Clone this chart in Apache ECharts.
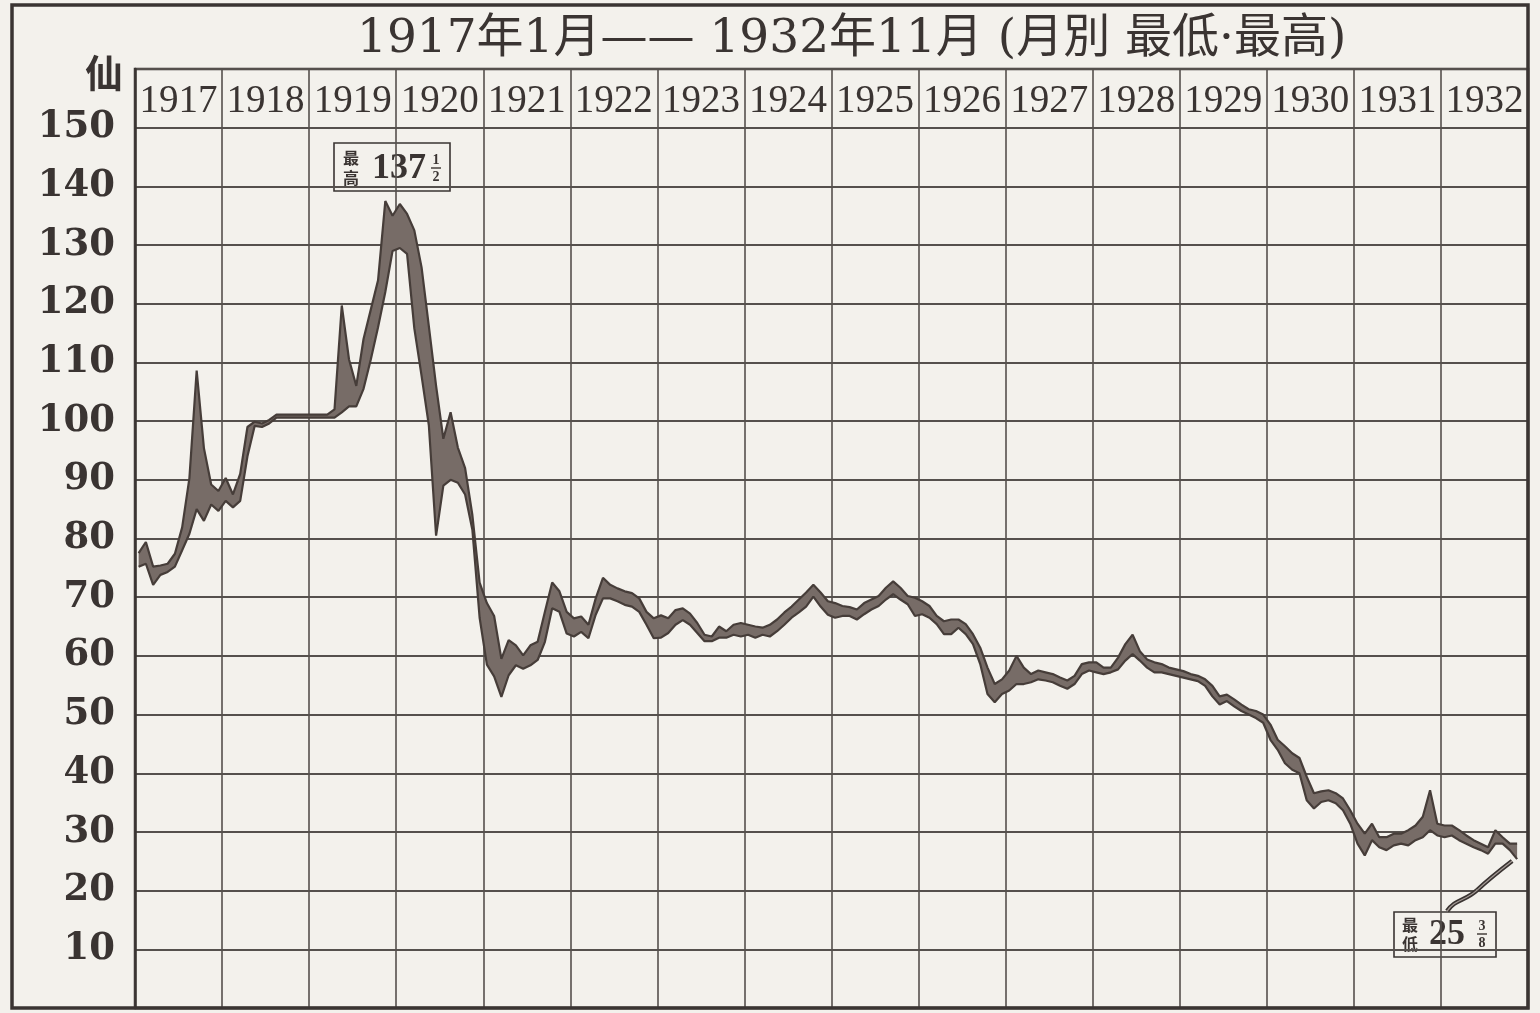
<!DOCTYPE html>
<html>
<head>
<meta charset="utf-8">
<script src="https://cdn.jsdelivr.net/npm/echarts@6/dist/echarts.min.js"></script>
<style>
html,body{margin:0;padding:0;background:#f2efea;}
#c{width:1540px;height:1013px;}
</style>
</head>
<body>
<div id="c"></div>
<script>
// ---------------- data ----------------
const years = ['1917','1918','1919','1920','1921','1922','1923','1924','1925','1926','1927','1928','1929','1930','1931','1932'];
const yTickLabels = [10,20,30,40,50,60,70,80,90,100,110,120,130,140,150];
const titleText = '1917年1月—— 1932年11月 (月別 最低·最高)';
const unitLabel = '仙';

// monthly highest (Jan 1917 – Nov 1932)
const monthlyHigh = [
  77.5, 79.4, 75.2, 75.4, 75.7, 77.4, 81.9, 90.3, 108.6, 95.4, 89.2, 88.1,      // 1917
  90.3, 87.5, 91.0, 99.0, 99.9, 99.6, 100.2, 101.1, 101.1, 101.1, 101.1, 101.1, // 1918
  101.1, 101.1, 101.1, 102.0, 119.7, 110.5, 106.0, 114.0, 119.0, 124.0, 137.5, 135.0, // 1919
  137.0, 135.3, 132.5, 126.2, 116.2, 106.0, 97.0, 101.5, 95.5, 92.0, 84.0, 72.5, // 1920
  69.0, 66.8, 59.5, 62.7, 61.8, 60.1, 61.8, 62.4, 67.5, 72.5, 71.0, 67.5,       // 1921
  66.4, 66.7, 65.3, 69.8, 73.3, 72.1, 71.5, 71.0, 70.7, 69.8, 67.5, 66.4,       // 1922
  66.9, 66.4, 67.8, 68.1, 67.2, 65.6, 63.6, 63.3, 65.0, 64.2, 65.3, 65.6,       // 1923
  65.3, 65.0, 64.8, 65.3, 66.2, 67.4, 68.4, 69.6, 70.8, 72.1, 70.8, 69.3,       // 1924
  69.0, 68.5, 68.3, 67.9, 69.0, 69.6, 70.2, 71.6, 72.7, 71.6, 70.2, 69.9,       // 1925
  69.3, 68.5, 66.8, 65.9, 66.2, 66.2, 65.4, 63.7, 61.4, 58.0, 55.2, 56.0,       // 1926
  57.5, 60.0, 58.0, 56.9, 57.5, 57.2, 56.9, 56.3, 55.8, 56.6, 58.6, 58.9,       // 1927
  58.9, 58.0, 58.0, 59.7, 62.0, 63.6, 60.8, 59.4, 58.9, 58.6, 58.0, 57.7,       // 1928
  57.4, 56.9, 56.6, 56.0, 54.9, 53.1, 53.4, 52.6, 51.7, 50.9, 50.6, 50.0,       // 1929
  48.3, 45.7, 44.6, 43.4, 42.6, 39.4, 36.6, 36.9, 37.1, 36.6, 35.7, 33.7,       // 1930
  31.4, 29.7, 31.4, 29.1, 29.1, 29.7, 29.7, 30.3, 31.1, 32.6, 37.1, 31.4,       // 1931
  31.1, 31.1, 30.3, 29.4, 28.6, 28.0, 27.4, 30.3, 29.1, 28.0, 28.0              // 1932 (to Nov)
];

// monthly lowest (Jan 1917 – Nov 1932)
const monthlyLow = [
  75.2, 75.7, 72.1, 73.8, 74.3, 75.2, 78.0, 80.8, 85.0, 83.0, 85.8, 84.7,       // 1917
  86.4, 85.3, 86.4, 94.0, 99.2, 99.0, 99.6, 100.6, 100.6, 100.6, 100.6, 100.6,  // 1918
  100.6, 100.6, 100.6, 100.6, 101.5, 102.5, 102.5, 105.5, 110.5, 116.0, 122.0, 129.0, // 1919
  129.5, 128.5, 115.8, 107.7, 99.3, 80.5, 89.0, 90.0, 89.5, 87.5, 81.5, 66.5,   // 1920
  58.5, 56.5, 53.0, 56.7, 58.4, 57.8, 58.4, 59.3, 62.4, 68.1, 67.5, 63.8,       // 1921
  63.3, 64.1, 63.0, 67.0, 69.8, 69.8, 69.3, 68.7, 68.4, 67.5, 65.3, 63.0,       // 1922
  63.1, 63.9, 65.3, 66.1, 65.3, 63.9, 62.5, 62.5, 63.1, 63.1, 63.6, 63.3,       // 1923
  63.6, 63.1, 63.6, 63.3, 64.2, 65.3, 66.5, 67.4, 68.4, 70.1, 68.4, 67.0,       // 1924
  66.5, 66.8, 66.8, 66.2, 67.1, 67.9, 68.5, 69.6, 70.5, 69.6, 68.8, 66.8,       // 1925
  67.1, 66.5, 65.4, 63.7, 63.7, 64.8, 63.7, 62.0, 58.6, 53.5, 52.1, 53.5,       // 1926
  54.1, 55.2, 55.2, 55.5, 56.0, 55.8, 55.5, 54.9, 54.4, 55.2, 56.9, 57.5,       // 1927
  57.2, 56.9, 57.2, 57.7, 59.2, 60.3, 59.2, 58.0, 57.2, 57.2, 56.9, 56.6,       // 1928
  56.3, 56.0, 55.7, 54.9, 53.1, 51.7, 52.3, 51.4, 50.6, 50.0, 49.4, 48.6,       // 1929
  45.7, 44.0, 41.7, 40.6, 40.0, 35.4, 34.0, 35.1, 35.4, 34.9, 33.7, 31.4,       // 1930
  28.0, 26.0, 28.6, 27.4, 26.9, 27.7, 28.0, 27.7, 28.6, 29.1, 30.3, 29.4,       // 1931
  29.1, 29.4, 28.6, 28.0, 27.4, 26.9, 26.3, 28.0, 28.0, 26.9, 25.375           // 1932 (to Nov)
];

// ---------------- derived ----------------
const months = [];
years.forEach(y => { for (let m = 1; m <= 12; m++) months.push(y + '-' + (m < 10 ? '0' : '') + m); });
const bandWidth = monthlyHigh.map((h, i) => +(h - monthlyLow[i]).toFixed(3));

const INK = '#3a3432';
const GRID = '#55504d';
const BAND = '#776c67';
const EDGE = '#463d39';
const PAPER = '#f3f1ec';
const serif = '"DejaVu Serif", "Noto Sans CJK SC", serif';

const chart = echarts.init(document.getElementById('c'), null, {renderer: 'canvas'});

const frame = {
  type: 'rect', id: 'frame', z: 100, silent: true,
  shape: {x: 12, y: 5, width: 1516, height: 1003},
  style: {fill: 'none', stroke: INK, lineWidth: 3.5}
};

const option = {
  animation: false,
  backgroundColor: PAPER,
  title: {
    text: titleText,
    left: 352, top: 11,
    textStyle: {fontFamily: serif, fontSize: 47, fontWeight: 'normal', color: INK}
  },
  grid: {left: 135, right: 12, top: 69, bottom: 5, show: true, borderColor: INK, borderWidth: 2.5, backgroundColor: 'transparent'},
  xAxis: [
    {
      type: 'category', data: years, position: 'top', boundaryGap: true,
      axisLine: {show: false}, axisTick: {show: false},
      axisLabel: {inside: true, interval: 0, margin: 13, fontFamily: '"Liberation Serif", serif', fontSize: 39, color: INK},
      splitLine: {show: true, interval: 0, lineStyle: {color: GRID, width: 1.6}}
    },
    {
      type: 'category', data: months, boundaryGap: true, show: false
    }
  ],
  yAxis: {
    type: 'value', min: 0, max: 160, interval: 10,
    name: unitLabel, nameLocation: 'end', nameGap: -4,
    nameTextStyle: {fontFamily: '"Noto Sans CJK SC"', fontSize: 38, fontWeight: 'bold', color: INK, align: 'right', verticalAlign: 'middle', padding: [0, 12, 0, 0]},
    axisLine: {show: true, lineStyle: {color: INK, width: 2.5}},
    axisTick: {show: false},
    axisLabel: {
      margin: 20, fontFamily: serif, fontWeight: 'bold', fontSize: 37, color: INK,
      formatter: v => yTickLabels.indexOf(v) >= 0 ? String(v) : ''
    },
    splitLine: {show: true, lineStyle: {color: GRID, width: 2}}
  },
  series: [
    {
      name: '最低', type: 'line', xAxisIndex: 1, yAxisIndex: 0,
      data: monthlyLow, stack: 'band', symbol: 'none', z: 5,
      lineStyle: {color: EDGE, width: 2.2}
    },
    {
      name: '最高', type: 'line', xAxisIndex: 1, yAxisIndex: 0,
      data: bandWidth, stack: 'band', symbol: 'none', z: 5,
      lineStyle: {color: EDGE, width: 2.2},
      areaStyle: {color: BAND, opacity: 1}
    }
  ],
  graphic: [frame]
};
chart.setOption(option);

// ---------------- annotations (positioned from the data extremes) ----------------
function fractionParts(v) {
  const whole = Math.floor(v);
  let num = Math.round((v - whole) * 8), den = 8;
  while (num && num % 2 === 0) { num /= 2; den /= 2; }
  return {whole: String(whole), num: String(num), den: String(den)};
}
function labelBox(id, x0, y0, w, h, c1, c2, value, cfg) {
  const p = fractionParts(value);
  const small = 'bold 16px "Noto Sans CJK SC"';
  const fr = 'bold 14px "Liberation Serif", serif';
  return {
    type: 'group', id: id, x: x0, y: y0, z: 110, silent: true,
    children: [
      {type: 'rect', shape: {x: 0, y: 0, width: w, height: h}, style: {fill: PAPER, stroke: INK, lineWidth: 1.6}},
      {type: 'text', x: cfg.cx, y: cfg.c1y, style: {text: c1, font: small, fill: INK, align: 'center', verticalAlign: 'middle'}},
      {type: 'text', x: cfg.cx, y: cfg.c2y, style: {text: c2, font: small, fill: INK, align: 'center', verticalAlign: 'middle'}},
      {type: 'text', x: cfg.bx, y: cfg.by, style: {text: p.whole, font: 'bold ' + cfg.bs + 'px "Liberation Serif", serif', fill: INK, align: 'left', verticalAlign: 'middle'}},
      {type: 'text', x: cfg.fx, y: cfg.fy - 8, style: {text: p.num, font: fr, fill: INK, align: 'center', verticalAlign: 'middle'}},
      {type: 'line', shape: {x1: cfg.fx - 5, y1: cfg.fy, x2: cfg.fx + 5, y2: cfg.fy}, style: {stroke: INK, lineWidth: 1.4}},
      {type: 'text', x: cfg.fx, y: cfg.fy + 9, style: {text: p.den, font: fr, fill: INK, align: 'center', verticalAlign: 'middle'}}
    ]
  };
}

let maxI = 0, minI = 0;
monthlyHigh.forEach((v, i) => { if (v > monthlyHigh[maxI]) maxI = i; });
monthlyLow.forEach((v, i) => { if (v < monthlyLow[minI]) minI = i; });
const pMax = chart.convertToPixel({xAxisIndex: 1, yAxisIndex: 0}, [maxI, monthlyHigh[maxI]]);
const pMin = chart.convertToPixel({xAxisIndex: 1, yAxisIndex: 0}, [minI, monthlyLow[minI]]);

const boxMax = labelBox('boxMax', Math.round(pMax[0] - 51), Math.round(pMax[1] - 58), 116, 48, '最', '高', monthlyHigh[maxI],
  {cx: 17, c1y: 15, c2y: 35, bx: 38, by: 26, bs: 36, fx: 102, fy: 25});
const boxMin = labelBox('boxMin', Math.round(pMin[0] - 123), Math.round(pMin[1] + 53), 102, 45, '最', '低', monthlyLow[minI],
  {cx: 16, c1y: 13, c2y: 32, bx: 35, by: 23, bs: 36, fx: 88, fy: 22});

// S-shaped pointer from the low box up to the lowest point
const ax = pMin[0], ay = pMin[1];
function curve(id, x1, y1, c1x, c1y, c2x, c2y, x2, y2, stroke, lw, z) {
  return {type: 'bezierCurve', id: id, z: z, silent: true,
    shape: {x1: x1, y1: y1, cpx1: c1x, cpy1: c1y, cpx2: c2x, cpy2: c2y, x2: x2, y2: y2},
    style: {fill: 'none', stroke: stroke, lineWidth: lw}};
}
const seg1 = [ax - 70, ay + 52, ax - 62, ay + 40, ax - 52, ay + 42, ax - 40, ay + 31];
const seg2 = [ax - 40, ay + 31, ax - 28, ay + 20, ax - 18, ay + 12, ax - 5, ay + 2];
const arrows = [
  curve('a1o', ...seg1, INK, 4.5, 105), curve('a2o', ...seg2, INK, 4.5, 105),
  curve('a1i', ...seg1, '#a59b96', 1.2, 106), curve('a2i', ...seg2, '#a59b96', 1.2, 106)
];

chart.setOption({graphic: [frame, boxMax, boxMin].concat(arrows)});
</script>
</body>
</html>
